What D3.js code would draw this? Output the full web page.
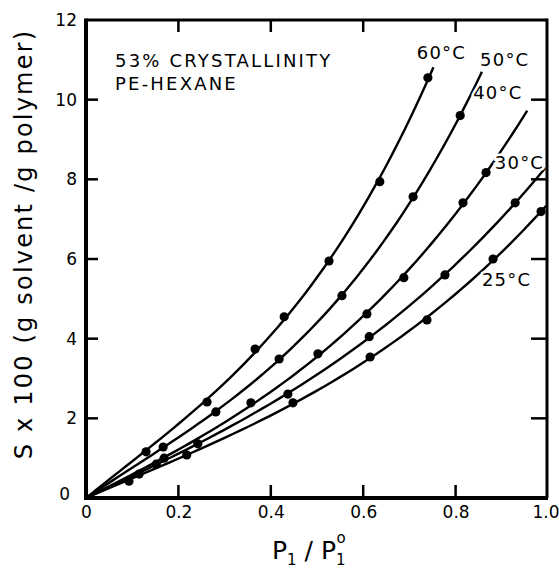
<!DOCTYPE html>
<html>
<head>
  <script src="https://cdnjs.cloudflare.com/ajax/libs/d3/7.8.5/d3.min.js"></script>
  <style>
    body { margin: 0; background: #fff; }
    svg { font-family: "DejaVu Sans", sans-serif; }
  </style>
</head>
<body>
<svg width="559" height="580"></svg>
<script>
// temperatures and the points (x = P1/P1°, y = S x 100)
var temps = ["25°C", "30°C", "40°C", "50°C", "60°C"];
var xs25 = [0.093, 0.218, 0.448, 0.615, 0.738, 0.881, 0.985];
var ys25 = [0.42, 1.08, 2.39, 3.54, 4.47, 6.00, 7.19];
var xs30 = [0.152, 0.242, 0.437, 0.613, 0.777, 0.929];
var ys30 = [0.85, 1.36, 2.61, 4.05, 5.60, 7.41];
var xs40 = [0.115, 0.169, 0.357, 0.502, 0.608, 0.688, 0.816, 0.866];
var ys40 = [0.60, 1.00, 2.39, 3.62, 4.62, 5.53, 7.41, 8.17];
var xs50 = [0.167, 0.281, 0.418, 0.554, 0.708, 0.810];
var ys50 = [1.28, 2.16, 3.49, 5.08, 7.56, 9.60];
var xs60 = [0.130, 0.262, 0.366, 0.429, 0.526, 0.636, 0.740];
var ys60 = [1.16, 2.41, 3.74, 4.55, 5.95, 7.94, 10.55];
// where each drawn curve stops
var curveEnd = [0.996, 0.994, 0.955, 0.857, 0.752];
// where each temperature label starts (data units, left edge / middle height)
var labelX = [0.857, 0.885, 0.838, 0.853, 0.716];
var labelY = [5.47, 8.41, 10.17, 11.0, 11.17];

var xTicks = [0, 0.2, 0.4, 0.6, 0.8, 1.0];
var yTicks = [0, 2, 4, 6, 8, 10, 12];

var series = [
  {x: xs25, y: ys25}, {x: xs30, y: ys30}, {x: xs40, y: ys40},
  {x: xs50, y: ys50}, {x: xs60, y: ys60}
];

var svg = d3.select("svg");
var xScale = d3.scaleLinear().domain([0, 1]).range([86, 548]);
var yScale = d3.scaleLinear().domain([0, 12]).range([498, 20]);

// frame as filled bars: left, bottom (thick), top, right (thinner)
var x0 = xScale(0), x1 = xScale(1), y0 = yScale(0), y1 = yScale(12);
var frameBars = [
  [x0 - 2, y1 - 1.5, 4, y0 - y1 + 3.5],
  [x0 - 2, y0 - 2, x1 - x0 + 2, 4],
  [x0, y1 - 1.5, x1 - x0 - 1, 3],
  [x1 - 2.5, y1 - 1.5, 3, y0 - y1 + 1.5]
];
svg.append("g").selectAll("rect")
  .data(frameBars)
  .join("rect")
    .attr("x", function(d) { return d[0]; })
    .attr("y", function(d) { return d[1]; })
    .attr("width", function(d) { return d[2]; })
    .attr("height", function(d) { return d[3]; })
    .attr("fill", "#000");

// inward ticks on all four sides
var inner = xTicks.slice(1, -1);
svg.append("g").selectAll("rect")
  .data(inner)
  .join("rect")
    .attr("x", function(d) { return xScale(d) - 1.25; })
    .attr("y", y0 - 13).attr("width", 2.5).attr("height", 13)
    .attr("fill", "#000");
svg.append("g").selectAll("rect")
  .data(inner)
  .join("rect")
    .attr("x", function(d) { return xScale(d) - 1.25; })
    .attr("y", y1).attr("width", 2.5).attr("height", 12)
    .attr("fill", "#000");
var innerY = yTicks.slice(1, -1);
svg.append("g").selectAll("rect")
  .data(innerY)
  .join("rect")
    .attr("x", x0).attr("y", function(d) { return yScale(d) - 1.25; })
    .attr("width", 12).attr("height", 2.5)
    .attr("fill", "#000");
svg.append("g").selectAll("rect")
  .data(innerY)
  .join("rect")
    .attr("x", x1 - 17).attr("y", function(d) { return yScale(d) - 1.25; })
    .attr("width", 16).attr("height", 2.5)
    .attr("fill", "#000");

// least squares y = a x + b x^2 + c x^3 (through origin)
function fit(px, py) {
  var M = [[0,0,0],[0,0,0],[0,0,0]], v = [0,0,0];
  px.forEach(function(xi, k) {
    var f = [xi, xi*xi, xi*xi*xi];
    for (var i = 0; i < 3; i++) {
      v[i] += f[i] * py[k];
      for (var j = 0; j < 3; j++) M[i][j] += f[i] * f[j];
    }
  });
  for (var i = 0; i < 3; i++) {
    for (var r = i + 1; r < 3; r++) {
      var m = M[r][i] / M[i][i];
      for (var c = i; c < 3; c++) M[r][c] -= m * M[i][c];
      v[r] -= m * v[i];
    }
  }
  var s = [0,0,0];
  for (var i = 2; i >= 0; i--) {
    var t = v[i];
    for (var c = i + 1; c < 3; c++) t -= M[i][c] * s[c];
    s[i] = t / M[i][i];
  }
  return function(t) { return s[0]*t + s[1]*t*t + s[2]*t*t*t; };
}

var curveGen = d3.line()
    .x(function(d) { return xScale(d[0]); })
    .y(function(d) { return yScale(d[1]); });

series.forEach(function(s, i) {
  var f = fit(s.x, s.y);
  var pts = d3.range(0, 61).map(function(k) {
    var t = curveEnd[i] * k / 60;
    return [t, f(t)];
  });
  svg.append("path")
      .attr("d", curveGen(pts))
      .attr("fill", "none")
      .attr("stroke", "#000")
      .attr("stroke-width", 2.4);
});

series.forEach(function(s) {
  svg.append("g").selectAll("circle")
    .data(s.x)
    .join("circle")
      .attr("cx", function(d) { return xScale(d); })
      .attr("cy", function(d, k) { return yScale(s.y[k]); })
      .attr("r", 4.6)
      .attr("fill", "#000");
});

// labels (white halo breaks the line behind them)
svg.append("g").selectAll("text")
  .data(temps)
  .join("text")
    .attr("x", function(d, i) { return xScale(labelX[i]); })
    .attr("y", function(d, i) { return yScale(labelY[i]); })
    .attr("dy", "0.35em")
    .attr("font-size", 18)
    .attr("letter-spacing", 1.2)
    .style("paint-order", "stroke")
    .attr("stroke", "#fff").attr("stroke-width", 5)
    .attr("fill", "#000")
    .text(function(d) { return d; });

// tick labels from the axes
function styleAxis(g) {
  g.select(".domain").remove();
  g.selectAll("line").remove();
  g.selectAll("text").attr("font-size", 17).attr("font-family", "DejaVu Sans").attr("fill", "#000");
}
svg.append("g")
    .attr("transform", "translate(0,498)")
    .call(d3.axisBottom(xScale).tickValues(xTicks).tickSize(0).tickPadding(8)
      .tickFormat(function(d) { return d === 0 ? "0" : d3.format(".1f")(d); }))
    .call(styleAxis)
    .selectAll("text").filter(function(d) { return d === 1; })
      .attr("text-anchor", "end").attr("dx", 11);
svg.append("g")
    .attr("transform", "translate(86,0)")
    .call(d3.axisLeft(yScale).tickValues(yTicks).tickSize(0).tickPadding(9))
    .call(styleAxis)
    .selectAll("text").filter(function(d) { return d === 0; }).attr("dx", -7).attr("dy", "0.1em");

// note in the corner
svg.append("text").attr("x", 115).attr("y", 67)
    .attr("font-size", 18).attr("letter-spacing", 2.2)
    .text("53% CRYSTALLINITY");
svg.append("text").attr("x", 115).attr("y", 90)
    .attr("font-size", 18).attr("letter-spacing", 2.2)
    .text("PE-HEXANE");

// axis titles
svg.append("text")
    .attr("transform", "translate(32,244) rotate(-90)")
    .attr("text-anchor", "middle")
    .attr("font-size", 24).attr("letter-spacing", 2.2)
    .text("S x 100 (g solvent /g polymer)");

var xt = svg.append("text").attr("x", 272).attr("y", 559).attr("font-size", 25);
xt.append("tspan").text("P");
xt.append("tspan").attr("font-size", 15).attr("dy", 6).text("1");
xt.append("tspan").attr("dy", -6).text(" / P");
xt.append("tspan").attr("font-size", 15).attr("dy", 6).text("1");
xt.append("tspan").attr("font-size", 15).attr("dx", -9).attr("dy", -22).text("o");
</script>
</body>
</html>
